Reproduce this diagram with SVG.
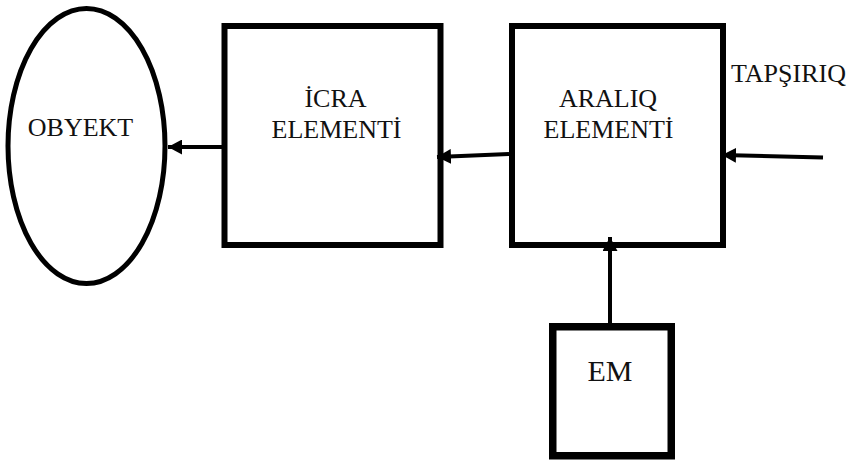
<svg xmlns="http://www.w3.org/2000/svg" width="856" height="460" viewBox="0 0 856 460">
  <style>
    .box { fill: #fff; stroke: #000; stroke-width: 6; }
    .em { fill: #fff; stroke: #000; stroke-width: 7.5; }
    .oval { fill: #fff; stroke: #000; stroke-width: 5; }
    .lbl { font-family: 'Liberation Serif', 'Times New Roman', serif; font-size: 26px; fill: #111; }
    .mid { text-anchor: middle; }
    .wire { fill: none; stroke: #000; stroke-width: 4; marker-end: url(#head); }
  </style>
  <defs>
    <marker id="head" markerUnits="userSpaceOnUse" markerWidth="15" markerHeight="15" refX="14" refY="7.5" orient="auto">
      <path d="M0,0 L14,7.5 L0,15 Z" fill="#000"/>
    </marker>
  </defs>

  <g id="obyekt">
    <ellipse class="oval" cx="86.5" cy="146" rx="78.5" ry="137.5"/>
    <text class="lbl mid" x="80.5" y="136">OBYEKT</text>
  </g>

  <g id="icra">
    <rect class="box" x="224.5" y="26" width="216" height="219"/>
    <text class="lbl mid" x="335.5" y="107">İCRA</text>
    <text class="lbl mid" x="336.5" y="138">ELEMENTİ</text>
  </g>

  <g id="araliq">
    <rect class="box" x="512" y="26" width="211" height="219"/>
    <text class="lbl mid" x="608" y="107">ARALIQ</text>
    <text class="lbl mid" x="608.5" y="138">ELEMENTİ</text>
  </g>

  <g id="tapsiriq">
    <text class="lbl" x="731" y="82">TAPŞIRIQ</text>
  </g>

  <g id="em">
    <rect class="em" x="552.75" y="326.75" width="118.5" height="129"/>
    <text class="lbl mid" x="610" y="381" style="font-size:30px">EM</text>
  </g>

  <g id="connectors">
    <line class="wire" x1="222" y1="147" x2="168" y2="147"/>
    <line class="wire" x1="509" y1="154" x2="437" y2="157"/>
    <line class="wire" x1="823" y1="157.5" x2="722" y2="155"/>
    <line class="wire" x1="610" y1="323" x2="610" y2="237"/>
  </g>
</svg>
